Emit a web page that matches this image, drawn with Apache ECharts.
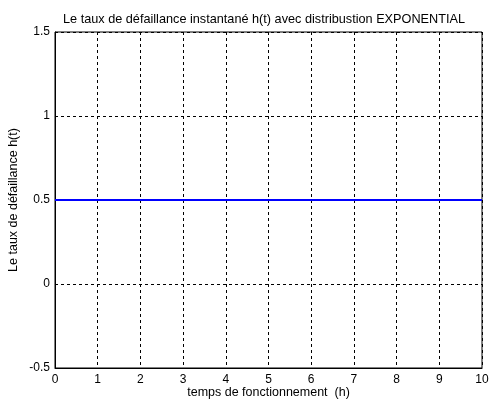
<!DOCTYPE html>
<html>
<head>
<meta charset="utf-8">
<script src="https://cdn.jsdelivr.net/npm/echarts@6/dist/echarts.min.js"></script>
<style>html,body{margin:0;padding:0;background:#fff;}#c{width:489px;height:402px;}</style>
</head>
<body>
<div id="c"></div>
<script>
const titleText = "Le taux de défaillance instantané h(t) avec distribustion EXPONENTIAL";
const xName = "temps de fonctionnement  (h)";
const yName = "Le taux de défaillance h(t)";
const times = [0, 1, 2, 3, 4, 5, 6, 7, 8, 9, 10];
const hazard = [0.5, 0.5, 0.5, 0.5, 0.5, 0.5, 0.5, 0.5, 0.5, 0.5, 0.5];

const font = "'Liberation Sans', Arial, sans-serif";
const chart = echarts.init(document.getElementById('c'), null, {renderer: 'canvas'});
chart.setOption({
  animation: false,
  backgroundColor: '#fff',
  title: {
    text: titleText, left: 259, top: 8, textAlign: 'center',
    textStyle: {fontFamily: font, fontSize: 12.7, fontWeight: 'normal', color: '#000'}
  },
  grid: {left: 55, right: 7, top: 32, bottom: 34, containLabel: false, outerBoundsMode: 'none',
         show: true, borderColor: '#000', borderWidth: 1, backgroundColor: '#fff'},
  xAxis: {
    type: 'value', min: 0, max: 10, interval: 1,
    name: xName, nameLocation: 'middle', nameGap: 18, nameMoveOverlap: false,
    nameTextStyle: {fontFamily: font, fontSize: 12.5, color: '#000'},
    axisLine: {show: true, onZero: false, lineStyle: {color: '#000', width: 1}},
    axisTick: {show: false},
    axisLabel: {fontFamily: font, fontSize: 12, color: '#000', margin: 6},
    splitLine: {show: true, lineStyle: {color: '#000', type: [3, 3], width: 1}}
  },
  yAxis: {
    type: 'value', min: -0.5, max: 1.5, interval: 0.5,
    name: yName, nameLocation: 'middle', nameGap: 35, nameRotate: 90, nameMoveOverlap: false,
    nameTextStyle: {fontFamily: font, fontSize: 12.5, color: '#000'},
    axisLine: {show: true, onZero: false, lineStyle: {color: '#000', width: 1}},
    axisTick: {show: false},
    axisLabel: {fontFamily: font, fontSize: 12, color: '#000', margin: 5},
    splitLine: {show: true, lineStyle: {color: '#000', type: [3, 3], width: 1}}
  },
  series: [{
    type: 'line',
    data: times.map((t, i) => [t, hazard[i]]),
    showSymbol: false,
    lineStyle: {color: '#0000ff', width: 2},
    itemStyle: {color: '#0000ff'}
  }]
});
</script>
</body>
</html>
